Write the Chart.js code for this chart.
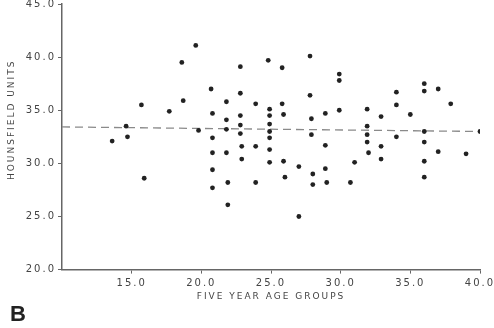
<!DOCTYPE html>
<html>
<head>
<meta charset="utf-8">
<script src="https://cdn.jsdelivr.net/npm/chart.js@4"></script>
<style>
  html, body { margin: 0; padding: 0; background: #fff; }
  canvas { display: block; }
</style>
</head>
<body>
<canvas id="chart" width="494" height="328"></canvas>
<script>
// age (five year groups) vs hounsfield units
const ages = [13.6, 14.6, 14.7, 15.7, 15.9, 17.7, 18.6, 18.7, 19.6, 19.8,
  20.7, 20.8, 20.8, 20.8, 20.8, 20.8, 21.8, 21.8, 21.8, 21.8, 21.9, 21.9,
  22.8, 22.8, 22.8, 22.8, 22.8, 22.9, 22.9, 23.9, 23.9, 23.9,
  24.8, 24.9, 24.9, 24.9, 24.9, 24.9, 24.9, 24.9,
  25.8, 25.8, 25.9, 25.9, 26.0, 27.0, 27.0,
  27.8, 27.8, 27.9, 27.9, 28.0, 28.0, 28.9, 28.9, 28.9, 29.0,
  29.9, 29.9, 29.9, 30.7, 31.0, 31.9, 31.9, 31.9, 31.9, 32.0,
  32.9, 32.9, 32.9, 34.0, 34.0, 34.0, 35.0,
  36.0, 36.0, 36.0, 36.0, 36.0, 36.0, 37.0, 37.0, 37.9, 39.0, 40.0];
const units = [32.1, 33.5, 32.5, 35.5, 28.6, 34.9, 39.5, 35.9, 41.1, 33.1,
  37.0, 34.7, 32.4, 31.0, 29.4, 27.7, 35.8, 34.1, 33.2, 31.0, 28.2, 26.1,
  39.1, 36.6, 34.5, 33.6, 32.8, 31.6, 30.4, 35.6, 31.6, 28.2,
  39.7, 35.1, 34.5, 33.7, 33.0, 32.4, 31.3, 30.1,
  39.0, 35.6, 34.6, 30.2, 28.7, 29.7, 25.0,
  40.1, 36.4, 34.2, 32.7, 29.0, 28.0, 34.7, 31.7, 29.5, 28.2,
  38.4, 37.8, 35.0, 28.2, 30.1, 35.1, 33.5, 32.7, 32.0, 31.0,
  34.4, 31.6, 30.4, 36.7, 35.5, 32.5, 34.6,
  37.5, 36.8, 33.0, 32.0, 30.2, 28.7, 37.0, 31.1, 35.6, 30.9, 33.0];

// dashed regression line ends
const fitX = [10, 40];
const fitY = [33.43, 33.0];

const xTicks = [15, 20, 25, 30, 35, 40];

const INK = '#444';
const AXIS = '#666';
const FONT = 'DejaVu Sans';

// wider letter spacing like the printed figure
const spacing = {
  id: 'spacing',
  beforeUpdate(chart) { chart.ctx.letterSpacing = '2px'; },
  beforeDraw(chart) { chart.ctx.letterSpacing = '2px'; }
};

new Chart(document.getElementById('chart'), {
  type: 'scatter',
  data: {
    datasets: [
      {
        label: 'points',
        data: ages.map((a, i) => ({ x: a, y: units[i] })),
        backgroundColor: '#222',
        borderColor: '#222',
        pointRadius: 2.4,
        pointHoverRadius: 2.4,
        borderWidth: 0
      },
      {
        type: 'line',
        label: 'fit',
        data: fitX.map((a, i) => ({ x: a, y: fitY[i] })),
        borderColor: '#8a8a8a',
        borderWidth: 1.3,
        borderDash: [8, 5],
        pointRadius: 0,
        fill: false
      }
    ]
  },
  options: {
    responsive: false,
    animation: false,
    events: [],
    layout: { padding: { top: 4, right: 14, left: 10, bottom: 0 } },
    plugins: {
      legend: { display: false },
      tooltip: { enabled: false },
      title: {
        display: true,
        text: 'B',
        position: 'bottom',
        align: 'start',
        color: '#222',
        font: { family: 'Liberation Sans', size: 22, weight: 'bold', lineHeight: 1.2 },
        padding: 0
      }
    },
    scales: {
      x: {
        type: 'linear',
        min: 10,
        max: 40,
        afterBuildTicks: s => { s.ticks = xTicks.map(v => ({ value: v })); },
        afterFit: s => { s.height = 32; s.paddingRight = 0; },
        border: { color: AXIS, width: 1.5 },
        grid: { display: true, drawOnChartArea: false, tickLength: 4, color: AXIS },
        ticks: {
          color: INK,
          padding: 4,
          maxRotation: 0,
          font: { family: FONT, size: 10 },
          callback: v => v.toFixed(1)
        },
        title: {
          display: true,
          text: 'FIVE YEAR AGE GROUPS',
          color: INK,
          font: { family: FONT, size: 9, lineHeight: 1.2 },
          padding: 0
        }
      },
      y: {
        min: 20,
        max: 45,
        afterFit: s => { s.width = 52; s.paddingTop = 0; },
        border: { color: AXIS, width: 1.5 },
        grid: { display: true, drawOnChartArea: false, tickLength: 4, color: AXIS },
        ticks: {
          stepSize: 5,
          color: INK,
          padding: 2,
          font: { family: FONT, size: 10 },
          callback: v => v.toFixed(1)
        },
        title: {
          display: true,
          // leading spaces lift the label, as it sits above centre in the print
          text: '\u00a0'.repeat(7) + 'HOUNSFIELD UNITS',
          color: INK,
          font: { family: FONT, size: 9, lineHeight: 1.2 },
          padding: { top: -4, bottom: 0 }
        }
      }
    }
  },
  plugins: [spacing]
});
</script>
</body>
</html>
